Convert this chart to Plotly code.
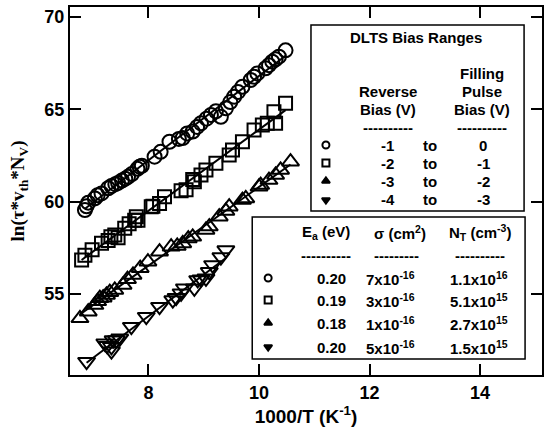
import numpy as np
import plotly.graph_objects as go

# ---------------- data ----------------
circ_x = [6.85, 6.88, 6.91, 7.03, 7.08, 7.15, 7.27, 7.33, 7.40, 7.45, 7.52, 7.58, 7.63, 7.70,
          7.80, 7.84, 7.88, 8.11, 8.22, 8.38, 8.55, 8.62, 8.70, 8.80, 8.88, 8.95, 9.05, 9.13,
          9.22, 9.31, 9.40, 9.48, 9.55, 9.62, 9.70, 9.85, 9.91, 9.97, 10.12, 10.18, 10.24,
          10.30, 10.36, 10.48]
circ_y = [59.55, 59.75, 59.95, 60.18, 60.35, 60.45, 60.73, 60.85, 60.95, 61.02, 61.15, 61.25,
          61.35, 61.5, 61.78, 61.9, 61.95, 62.44, 62.7, 63.25, 63.4, 63.45, 63.7, 63.8, 64.05,
          64.25, 64.5, 64.7, 64.9, 64.6, 65.06, 65.4, 65.69, 65.95, 66.23, 66.6, 66.77, 66.95,
          67.23, 67.4, 67.59, 67.72, 67.86, 68.2]

sq_x = [6.79, 6.85, 6.98, 7.15, 7.27, 7.32, 7.39, 7.45, 7.57, 7.65, 7.75, 7.78, 7.81, 8.05,
        8.08, 8.20, 8.29, 8.59, 8.68, 8.80, 8.83, 8.95, 9.04, 9.22, 9.46, 9.52, 9.70, 9.91,
        10.06, 10.15, 10.27, 10.30, 10.48]
sq_y = [56.84, 57.1, 57.4, 57.75, 57.9, 58.1, 58.2, 58.05, 58.56, 58.8, 59.0, 59.19, 59.0,
        59.73, 59.75, 59.9, 60.27, 60.6, 60.65, 61.2, 61.08, 61.45, 61.72, 62.08, 62.53, 62.8,
        63.25, 63.88, 64.15, 64.25, 64.88, 64.25, 65.33]

tu_x = [6.76, 6.91, 7.03, 7.08, 7.12, 7.18, 7.24, 7.30, 7.39, 7.54, 7.62, 7.72, 7.85, 7.99,
        8.20, 8.41, 8.52, 8.62, 8.72, 8.80, 9.04, 9.10, 9.28, 9.40, 9.46, 9.70, 9.76, 10.00,
        10.03, 10.18, 10.30, 10.39, 10.57]
tu_y = [53.68, 54.04, 54.4, 54.6, 54.77, 54.8, 54.95, 55.1, 55.22, 55.49, 55.8, 56.03, 56.4,
        56.75, 57.29, 57.56, 57.6, 57.74, 58.0, 58.1, 58.47, 58.65, 59.19, 59.5, 59.73, 60.09,
        60.18, 60.81, 60.9, 61.17, 61.45, 61.72, 62.17]

td_x = [6.88, 7.21, 7.25, 7.33, 7.33, 7.36, 7.42, 7.48, 7.69, 7.96, 8.20, 8.44, 8.50, 8.59,
        8.65, 8.83, 8.89, 8.95, 9.04, 9.10, 9.16, 9.31, 9.40]
td_y = [51.33, 52.33, 52.2, 52.14, 51.9, 52.5, 52.5, 52.6, 53.23, 53.77, 54.31, 54.67, 54.8,
        55.04, 55.31, 55.31, 55.76, 55.8, 55.85, 56.2, 56.57, 57.0, 57.38]

x_ticks = [8, 10, 12, 14]
y_ticks = [55, 60, 65, 70]

bias_rows = [("-1", "to", "0"), ("-2", "to", "-1"), ("-3", "to", "-2"), ("-4", "to", "-3")]
ea_vals = ["0.20", "0.19", "0.18", "0.20"]
sigma_vals = ["7x10<sup>-16</sup>", "3x10<sup>-16</sup>", "1x10<sup>-16</sup>", "5x10<sup>-16</sup>"]
nt_vals = ["1.1x10<sup>16</sup>", "5.1x10<sup>15</sup>", "2.7x10<sup>15</sup>", "1.5x10<sup>15</sup>"]

series = [
    (circ_x, circ_y, "circle-open", 14),
    (sq_x, sq_y, "square-open", 13),
    (tu_x, tu_y, "triangle-up-open", 15),
    (td_x, td_y, "triangle-down-open", 15),
]
legend_symbols = ["circle-open", "square-open", "triangle-up", "triangle-down"]

# ---------------- layout geometry ----------------
W, H = 544, 436
L, R, T, B = 70, 0, 7, 61
PW, PH = W - L - R, H - T - B

def px(xp):
    return (xp - L) / PW

def py(yp):
    return (H - B - yp) / PH

FONT = "Liberation Sans, Arial, sans-serif"

fig = go.Figure()

for xs, ys, sym, sz in series:
    xs_a = np.array(xs)
    ys_a = np.array(ys)
    k, b = np.polyfit(xs_a, ys_a, 1)
    xl = np.array([xs_a.min(), xs_a.max()])
    fig.add_trace(go.Scatter(x=xs, y=ys, mode="markers",
                             marker=dict(symbol=sym, size=sz, color="black",
                                         line=dict(width=2, color="black")),
                             showlegend=False, hoverinfo="skip"))
    fig.add_trace(go.Scatter(x=xl, y=k * xl + b, mode="lines",
                             line=dict(color="black", width=2),
                             showlegend=False, hoverinfo="skip"))

# legend boxes
shapes = [
    dict(type="rect", xref="paper", yref="paper", x0=px(312), x1=px(526), y0=py(211), y1=py(25),
         line=dict(color="black", width=1.5), fillcolor="white", layer="below"),
    dict(type="rect", xref="paper", yref="paper", x0=px(253), x1=px(527), y0=py(359), y1=py(217),
         line=dict(color="black", width=1.5), fillcolor="white", layer="below"),
]

ann = []
def txt(xp, yp, s, size=15, xanchor="center"):
    ann.append(dict(xref="paper", yref="paper", x=px(xp), y=py(yp), text="<b>" + s + "</b>",
                    showarrow=False, xanchor=xanchor, yanchor="middle",
                    font=dict(family=FONT, size=size, color="black")))

txt(417, 37, "DLTS Bias Ranges")
txt(389, 91, "Reverse")
txt(389, 110, "Bias (V)")
txt(484, 73, "Filling")
txt(484, 91, "Pulse")
txt(484, 110, "Bias (V)")
txt(389, 127, "----------")
txt(484, 127, "----------")
rows1 = [145, 163, 181, 200]
for (a, t, c), yy in zip(bias_rows, rows1):
    txt(389, yy, a)
    txt(432, yy, t)
    txt(485, yy, c)

txt(327, 232, "E<sub>a</sub> (eV)")
txt(401, 232, "σ (cm<sup>2</sup>)")
txt(482, 232, "N<sub>T</sub> (cm<sup>-3</sup>)")
txt(327, 255, "----------")
txt(398, 255, "---------")
txt(482, 255, "----------")
rows2 = [278, 300, 323, 347]
for e, s, n, yy in zip(ea_vals, sigma_vals, nt_vals, rows2):
    txt(333, yy, e)
    txt(392, yy, s)
    txt(481, yy, n)

# legend symbols in tables (overlay axes in plot fraction coordinates)
for sym, y1, y2 in zip(legend_symbols, rows1, rows2):
    fig.add_trace(go.Scatter(x=[px(327), px(269)], y=[py(y1), py(y2)], xaxis="x2", yaxis="y2",
                             mode="markers",
                             marker=dict(symbol=sym, size=7, color="black",
                                         line=dict(width=2, color="black")),
                             showlegend=False, hoverinfo="skip"))

axis_common = dict(showline=True, linecolor="black", linewidth=2, mirror="ticks",
                   ticks="inside", ticklen=11, tickwidth=2, tickcolor="black",
                   showgrid=False, zeroline=False,
                   tickfont=dict(family=FONT, size=18, color="black", weight="bold"))

fig.update_layout(
    width=W, height=H, margin=dict(l=L, r=R, t=T, b=B),
    paper_bgcolor="white", plot_bgcolor="white",
    xaxis=dict(range=[6.58, 15.12], tickvals=x_ticks,
               ticktext=["<b>%d</b>" % v for v in x_ticks],
               title=dict(text="<b>1000/T (K<sup>-1</sup>)</b>", standoff=4,
                          font=dict(family=FONT, size=19, color="black")),
               **axis_common),
    yaxis=dict(range=[50.61, 70.55], tickvals=y_ticks,
               ticktext=["<b>%d</b>" % v for v in y_ticks],
               title=dict(text="<b>ln(τ*v<sub>th</sub>*N<sub>V</sub>)</b>", standoff=15,
                          font=dict(family="Liberation Serif, Times New Roman, serif", size=19,
                                    color="black")),
               **axis_common),
    xaxis2=dict(overlaying="x", range=[0, 1], visible=False, anchor="y2"),
    yaxis2=dict(overlaying="y", range=[0, 1], visible=False, anchor="x2"),
    shapes=shapes, annotations=ann,
)

fig.write_html("out.html", config={"displayModeBar": False},
               post_script="document.body.style.margin='0';document.body.style.padding='0';")
